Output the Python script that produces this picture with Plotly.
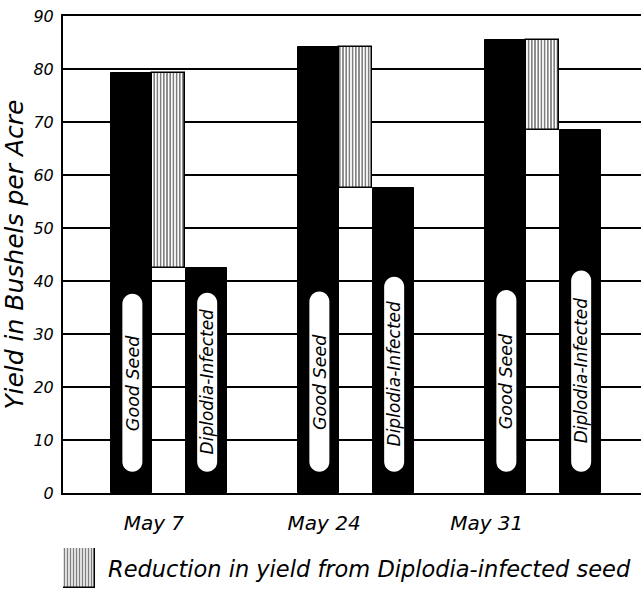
import plotly.graph_objects as go

# ---- data ----
dates = ["May 7", "May 24", "May 31"]
good_seed = [79.2, 84.1, 85.5]
diplodia_infected = [42.4, 57.5, 68.5]
y_ticks = [0, 10, 20, 30, 40, 50, 60, 70, 80, 90]
series_labels = ["Good Seed", "Diplodia-Infected"]
legend_text = "Reduction in yield from Diplodia-infected seed"
y_title = "Yield in Bushels per Acre"

# ---- layout constants (styles / positions) ----
FONT = "DejaVu Sans"
GROUP_X = [0.0, 1.0, 2.0]
OFF_GOOD, OFF_HATCH, OFF_INF = 0.0, 0.198, 0.40
W_GOOD, W_HATCH, W_INF = 0.22, 0.177, 0.22
LABEL_X = [0.12, 1.03, 1.90]
PILL_W = 0.107
PILL_BOTTOM = 4.0
PILL_TOP_GOOD = [37.6, 38.0, 38.3]
PILL_TOP_INF = [37.8, 40.8, 42.0]
RX, RY = PILL_W / 2, 1.9

W, H = 641, 591
ML, MR, MT, MB = 63, 0, 16, 0
PW, PH = W - ML - MR, H - MT - MB

reduction = [g - d for g, d in zip(good_seed, diplodia_infected)]

fig = go.Figure()
fig.add_trace(go.Bar(
    x=[g + OFF_GOOD for g in GROUP_X], y=good_seed, width=W_GOOD,
    marker=dict(color="black", line=dict(color="black", width=1)),
    showlegend=False, xaxis="x", yaxis="y"))
fig.add_trace(go.Bar(
    x=[g + OFF_HATCH for g in GROUP_X], y=reduction, base=diplodia_infected, width=W_HATCH,
    marker=dict(color="white", line=dict(color="black", width=1.5),
                pattern=dict(shape="|", fgcolor="black", bgcolor="white", size=3.2, solidity=0.5)),
    showlegend=False, xaxis="x", yaxis="y"))
fig.add_trace(go.Bar(
    x=[g + OFF_INF for g in GROUP_X], y=diplodia_infected, width=W_INF,
    marker=dict(color="black", line=dict(color="black", width=1)),
    showlegend=False, xaxis="x", yaxis="y"))

# legend swatch (own small axes)
fig.add_trace(go.Bar(
    x=[0], y=[1], width=1,
    marker=dict(color="white", line=dict(color="black", width=1.5),
                pattern=dict(shape="|", fgcolor="black", bgcolor="white", size=3.0, solidity=0.5)),
    showlegend=False, xaxis="x2", yaxis="y2", hoverinfo="skip"))


def pill_path(xc, y0, y1):
    k = 0.5523
    x0, x1 = xc - RX, xc + RX
    yb, yt = y0 + RY, y1 - RY
    return (f"M {x0},{yb} L {x0},{yt} "
            f"C {x0},{yt + k*RY} {xc - k*RX},{y1} {xc},{y1} "
            f"C {xc + k*RX},{y1} {x1},{yt + k*RY} {x1},{yt} "
            f"L {x1},{yb} "
            f"C {x1},{yb - k*RY} {xc + k*RX},{y0} {xc},{y0} "
            f"C {xc - k*RX},{y0} {x0},{yb - k*RY} {x0},{yb} Z")


shapes = []
annotations = []
for i, g in enumerate(GROUP_X):
    for off, top, lab, fs in [(OFF_GOOD, PILL_TOP_GOOD[i], series_labels[0], 17.5),
                              (OFF_INF, PILL_TOP_INF[i], series_labels[1], 17)]:
        xc = g + off + 0.005
        shapes.append(dict(type="path", path=pill_path(xc, PILL_BOTTOM, top),
                           xref="x", yref="y", fillcolor="white",
                           line=dict(width=0), layer="above"))
        annotations.append(dict(x=xc, y=(PILL_BOTTOM + top) / 2, xref="x", yref="y",
                                text=lab, textangle=-90, showarrow=False,
                                font=dict(family=FONT, size=fs, color="black", style="italic")))

annotations.append(dict(x=(106 - ML) / PW, y=(H - 569 - MB) / PH, xref="paper", yref="paper",
                        text=legend_text, showarrow=False, xanchor="left", yanchor="middle",
                        font=dict(family=FONT, size=22.5, color="black", style="italic")))

fig.update_layout(
    width=W, height=H,
    margin=dict(l=ML, r=MR, t=MT, b=MB, pad=0, autoexpand=False),
    paper_bgcolor="white", plot_bgcolor="white",
    barmode="overlay", bargap=0,
    shapes=shapes, annotations=annotations,
    font=dict(family=FONT, color="black"),
    xaxis=dict(domain=[0, 1], range=[-0.366, 2.725], showgrid=False, zeroline=False,
               showline=True, linecolor="black", linewidth=2, mirror=True,
               tickvals=LABEL_X, ticktext=dates, ticks="", automargin=False,
               ticklabelstandoff=11,
               tickfont=dict(family=FONT, size=20, color="black", style="italic")),
    yaxis=dict(domain=[(H - 493) / PH, 1], range=[0, 90], tickvals=y_ticks,
               showgrid=True, gridcolor="black", gridwidth=1.5, zeroline=False,
               showline=True, linecolor="black", automargin=False,
               linewidth=2, ticks="", ticklabelstandoff=4,
               tickfont=dict(family=FONT, size=16, color="black", style="italic"),
               title=dict(text=y_title, standoff=9,
                          font=dict(family=FONT, size=25, color="black", style="italic"))),
    xaxis2=dict(domain=[0, 32 / PW], range=[-0.5, 0.5], visible=False, anchor="y2"),
    yaxis2=dict(domain=[(H - 588) / PH, (H - 548) / PH], range=[0, 1], visible=False, anchor="x2"),
)

fig.write_html("out.html", config={"displayModeBar": False},
               post_script="document.body.style.margin='0';document.body.style.overflow='hidden';")
